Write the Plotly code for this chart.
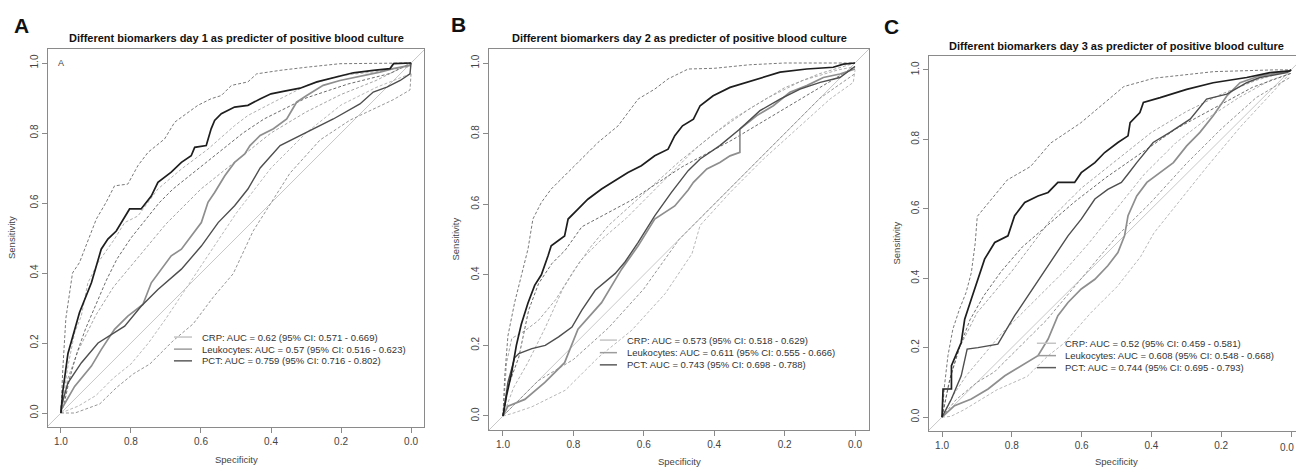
import plotly.graph_objects as go

# ---------------- DATA ----------------
panel_titles = [
    "Different biomarkers day 1 as predicter of positive blood culture",
    "Different biomarkers day 2 as predicter of positive blood culture",
    "Different biomarkers day 3 as predicter of positive blood culture",
]
panel_letters = ["A", "B", "C"]
legend_A = ["CRP: AUC = 0.62 (95% CI: 0.571 - 0.669)",
            "Leukocytes: AUC = 0.57 (95% CI: 0.516 - 0.623)",
            "PCT: AUC = 0.759 (95% CI: 0.716 - 0.802)"]
legend_B = ["CRP: AUC = 0.573 (95% CI: 0.518 - 0.629)",
            "Leukocytes: AUC = 0.611 (95% CI: 0.555 - 0.666)",
            "PCT: AUC = 0.743 (95% CI: 0.698 - 0.788)"]
legend_C = ["CRP: AUC = 0.52 (95% CI: 0.459 - 0.581)",
            "Leukocytes: AUC = 0.608 (95% CI: 0.548 - 0.668)",
            "PCT: AUC = 0.744 (95% CI: 0.695 - 0.793)"]
tick_vals = [0.0, 0.2, 0.4, 0.6, 0.8, 1.0]
tick_text = ["0.0", "0.2", "0.4", "0.6", "0.8", "1.0"]
chance_spec = [1.1, -0.1]
chance_sens = [-0.1, 1.1]

# Panel A
A_black_spec = [1.0, 0.995, 0.98, 0.966, 0.947, 0.913, 0.885, 0.866, 0.842, 0.804, 0.771, 0.742, 0.723, 0.685, 0.656, 0.628, 0.618, 0.585, 0.571, 0.561, 0.542, 0.504, 0.466, 0.43, 0.4, 0.365, 0.317, 0.269, 0.212, 0.165, 0.108, 0.06, 0.05, 0.0]
A_black_sens = [0.0, 0.06, 0.17, 0.22, 0.287, 0.372, 0.468, 0.497, 0.52, 0.583, 0.583, 0.62, 0.659, 0.688, 0.716, 0.735, 0.759, 0.764, 0.812, 0.836, 0.855, 0.874, 0.879, 0.898, 0.912, 0.919, 0.928, 0.946, 0.96, 0.972, 0.979, 0.984, 0.998, 1.0]
A_mid_spec = [1.0, 0.999, 0.961, 0.913, 0.885, 0.847, 0.809, 0.766, 0.742, 0.713, 0.685, 0.656, 0.628, 0.599, 0.58, 0.561, 0.532, 0.504, 0.475, 0.46, 0.431, 0.393, 0.355, 0.327, 0.298, 0.251, 0.203, 0.155, 0.089, 0.051, 0.003, 0.0]
A_mid_sens = [0.0, 0.01, 0.076, 0.134, 0.181, 0.239, 0.277, 0.31, 0.372, 0.411, 0.449, 0.468, 0.506, 0.544, 0.602, 0.63, 0.678, 0.716, 0.74, 0.764, 0.793, 0.812, 0.84, 0.888, 0.907, 0.936, 0.95, 0.96, 0.974, 0.984, 0.993, 1.0]
A_smooth_spec = [1.0, 0.999, 0.98, 0.942, 0.894, 0.847, 0.818, 0.771, 0.723, 0.656, 0.599, 0.551, 0.504, 0.466, 0.431, 0.374, 0.289, 0.222, 0.146, 0.108, 0.069, 0.031, 0.003, 0.0]
A_smooth_sens = [0.0, 0.019, 0.086, 0.143, 0.2, 0.229, 0.248, 0.305, 0.353, 0.411, 0.477, 0.544, 0.592, 0.64, 0.70, 0.764, 0.807, 0.84, 0.883, 0.917, 0.931, 0.95, 0.969, 1.0]
A_black_up_spec = [1.0, 0.995, 0.986, 0.967, 0.947, 0.923, 0.899, 0.871, 0.847, 0.809, 0.78, 0.751, 0.704, 0.675, 0.637, 0.609, 0.571, 0.542, 0.513, 0.466, 0.441, 0.374, 0.298, 0.203, 0.0]
A_black_up_sens = [0.0, 0.12, 0.27, 0.4, 0.43, 0.49, 0.554, 0.602, 0.649, 0.654, 0.707, 0.745, 0.783, 0.831, 0.86, 0.879, 0.898, 0.907, 0.936, 0.946, 0.969, 0.979, 0.988, 0.998, 1.0]
A_black_lo_spec = [1.0, 0.99, 0.975, 0.955, 0.93, 0.9, 0.87, 0.84, 0.8, 0.76, 0.72, 0.68, 0.63, 0.58, 0.53, 0.48, 0.42, 0.36, 0.3, 0.24, 0.18, 0.12, 0.06, 0.0]
A_black_lo_sens = [0.0, 0.03, 0.1, 0.17, 0.24, 0.31, 0.38, 0.44, 0.5, 0.55, 0.6, 0.64, 0.68, 0.72, 0.76, 0.8, 0.84, 0.87, 0.9, 0.92, 0.94, 0.955, 0.97, 1.0]
A_mid_up_spec = [1.0, 0.98, 0.961, 0.942, 0.923, 0.894, 0.847, 0.818, 0.78, 0.723, 0.656, 0.58, 0.504, 0.466, 0.393, 0.298, 0.203, 0.108, 0.0]
A_mid_up_sens = [0.0, 0.134, 0.229, 0.277, 0.372, 0.43, 0.497, 0.544, 0.563, 0.64, 0.697, 0.754, 0.821, 0.85, 0.888, 0.936, 0.964, 0.974, 0.99]
A_mid_lo_spec = [1.0, 0.95, 0.9, 0.85, 0.8, 0.75, 0.7, 0.6, 0.5, 0.4, 0.3, 0.2, 0.1, 0.0]
A_mid_lo_sens = [0.0, 0.02, 0.05, 0.1, 0.14, 0.2, 0.27, 0.42, 0.57, 0.7, 0.8, 0.88, 0.93, 0.97]
A_smooth_up_spec = [1.0, 0.98, 0.95, 0.9, 0.85, 0.8, 0.75, 0.7, 0.6, 0.5, 0.4, 0.3, 0.2, 0.1, 0.0]
A_smooth_up_sens = [0.0, 0.1, 0.18, 0.28, 0.36, 0.42, 0.48, 0.54, 0.64, 0.72, 0.8, 0.86, 0.91, 0.95, 1.0]
A_smooth_lo_spec = [1.0, 0.96, 0.889, 0.841, 0.793, 0.746, 0.679, 0.622, 0.565, 0.508, 0.451, 0.346, 0.26, 0.174, 0.051, 0.003, 0.0]
A_smooth_lo_sens = [0.0, 0.0, 0.026, 0.073, 0.112, 0.14, 0.207, 0.255, 0.331, 0.398, 0.52, 0.685, 0.78, 0.837, 0.895, 0.923, 0.97]

# Panel B
B_black_spec = [1.0, 0.99, 0.976, 0.962, 0.948, 0.929, 0.91, 0.891, 0.872, 0.863, 0.825, 0.815, 0.787, 0.759, 0.72, 0.683, 0.645, 0.607, 0.569, 0.531, 0.512, 0.49, 0.459, 0.44, 0.403, 0.355, 0.308, 0.26, 0.213, 0.137, 0.062, 0.033, 0.0]
B_black_sens = [0.0, 0.057, 0.12, 0.2, 0.26, 0.32, 0.37, 0.4, 0.454, 0.482, 0.51, 0.558, 0.586, 0.614, 0.643, 0.666, 0.69, 0.709, 0.737, 0.756, 0.794, 0.822, 0.841, 0.879, 0.907, 0.931, 0.945, 0.959, 0.974, 0.983, 0.988, 0.997, 1.0]
B_smooth_spec = [1.0, 0.986, 0.967, 0.955, 0.918, 0.88, 0.842, 0.804, 0.776, 0.738, 0.681, 0.653, 0.616, 0.569, 0.522, 0.474, 0.44, 0.384, 0.327, 0.27, 0.213, 0.156, 0.099, 0.043, 0.0]
B_smooth_sens = [0.0, 0.095, 0.165, 0.177, 0.191, 0.2, 0.224, 0.252, 0.3, 0.356, 0.404, 0.437, 0.492, 0.567, 0.633, 0.695, 0.728, 0.766, 0.813, 0.865, 0.898, 0.926, 0.945, 0.959, 0.99]
B_mid_spec = [1.0, 0.986, 0.938, 0.881, 0.825, 0.787, 0.72, 0.663, 0.616, 0.569, 0.512, 0.474, 0.459, 0.421, 0.384, 0.355, 0.327, 0.327, 0.279, 0.232, 0.185, 0.137, 0.09, 0.043, 0.0]
B_mid_sens = [0.0, 0.028, 0.047, 0.095, 0.151, 0.246, 0.321, 0.416, 0.482, 0.558, 0.595, 0.64, 0.662, 0.7, 0.718, 0.737, 0.747, 0.813, 0.851, 0.879, 0.917, 0.936, 0.959, 0.969, 0.983]
B_black_up_spec = [1.0, 0.995, 0.986, 0.967, 0.948, 0.929, 0.915, 0.891, 0.863, 0.825, 0.768, 0.73, 0.673, 0.616, 0.569, 0.531, 0.474, 0.4, 0.3, 0.2, 0.0]
B_black_up_sens = [0.0, 0.113, 0.227, 0.321, 0.397, 0.473, 0.558, 0.605, 0.643, 0.68, 0.737, 0.775, 0.822, 0.898, 0.926, 0.955, 0.983, 0.985, 0.995, 1.0, 1.0]
B_black_lo_spec = [1.0, 0.986, 0.955, 0.927, 0.899, 0.861, 0.823, 0.776, 0.634, 0.491, 0.349, 0.207, 0.065, 0.0]
B_black_lo_sens = [0.0, 0.082, 0.167, 0.3, 0.375, 0.432, 0.47, 0.536, 0.612, 0.706, 0.782, 0.867, 0.952, 0.99]
B_smooth_up_spec = [1.0, 0.99, 0.975, 0.94, 0.9, 0.85, 0.8, 0.75, 0.7, 0.6, 0.5, 0.4, 0.3, 0.2, 0.1, 0.0]
B_smooth_up_sens = [0.0, 0.15, 0.22, 0.24, 0.27, 0.33, 0.41, 0.48, 0.54, 0.63, 0.72, 0.8, 0.87, 0.93, 0.97, 1.0]
B_smooth_lo_spec = [1.0, 0.95, 0.9, 0.85, 0.8, 0.7, 0.6, 0.5, 0.4, 0.3, 0.2, 0.1, 0.0]
B_smooth_lo_sens = [0.0, 0.05, 0.1, 0.13, 0.16, 0.25, 0.36, 0.5, 0.6, 0.7, 0.8, 0.9, 0.97]
B_mid_up_spec = [1.0, 0.97, 0.93, 0.88, 0.83, 0.78, 0.72, 0.65, 0.55, 0.45, 0.35, 0.25, 0.15, 0.05, 0.0]
B_mid_up_sens = [0.0, 0.08, 0.15, 0.25, 0.36, 0.44, 0.5, 0.56, 0.66, 0.76, 0.84, 0.9, 0.95, 0.98, 0.99]
B_mid_lo_spec = [1.0, 0.974, 0.918, 0.823, 0.728, 0.634, 0.539, 0.463, 0.44, 0.355, 0.26, 0.166, 0.071, 0.005, 0.0]
B_mid_lo_sens = [0.0, 0.007, 0.026, 0.073, 0.167, 0.243, 0.347, 0.46, 0.54, 0.633, 0.728, 0.813, 0.898, 0.945, 0.98]

# Panel C
C_black_spec = [1.0, 0.997, 0.973, 0.973, 0.945, 0.935, 0.916, 0.897, 0.878, 0.849, 0.811, 0.792, 0.763, 0.725, 0.696, 0.668, 0.62, 0.601, 0.562, 0.534, 0.496, 0.467, 0.461, 0.433, 0.423, 0.375, 0.299, 0.223, 0.127, 0.06, 0.003, 0.0]
C_black_sens = [0.0, 0.081, 0.081, 0.148, 0.215, 0.282, 0.34, 0.397, 0.455, 0.503, 0.522, 0.58, 0.618, 0.637, 0.647, 0.676, 0.676, 0.704, 0.733, 0.762, 0.791, 0.81, 0.848, 0.877, 0.906, 0.92, 0.944, 0.963, 0.978, 0.992, 0.997, 1.0]
C_smooth_spec = [1.0, 0.973, 0.945, 0.928, 0.897, 0.84, 0.792, 0.754, 0.716, 0.678, 0.639, 0.601, 0.562, 0.525, 0.486, 0.467, 0.442, 0.395, 0.347, 0.289, 0.242, 0.184, 0.127, 0.089, 0.012, 0.0]
C_smooth_sens = [0.0, 0.052, 0.119, 0.196, 0.2, 0.21, 0.292, 0.349, 0.407, 0.464, 0.522, 0.57, 0.628, 0.656, 0.676, 0.7, 0.733, 0.791, 0.82, 0.858, 0.916, 0.93, 0.963, 0.978, 0.992, 1.0]
C_mid_spec = [1.0, 0.964, 0.916, 0.868, 0.82, 0.772, 0.725, 0.696, 0.668, 0.639, 0.601, 0.562, 0.525, 0.496, 0.477, 0.467, 0.442, 0.413, 0.375, 0.337, 0.299, 0.261, 0.223, 0.184, 0.146, 0.089, 0.012, 0.0]
C_mid_sens = [0.0, 0.033, 0.052, 0.081, 0.119, 0.148, 0.177, 0.225, 0.292, 0.33, 0.369, 0.397, 0.436, 0.474, 0.522, 0.58, 0.637, 0.676, 0.704, 0.733, 0.781, 0.82, 0.868, 0.925, 0.963, 0.983, 0.994, 1.0]
C_black_up_spec = [1.0, 0.993, 0.983, 0.969, 0.95, 0.931, 0.916, 0.905, 0.899, 0.86, 0.813, 0.746, 0.689, 0.603, 0.536, 0.479, 0.393, 0.221, 0.05, 0.0]
C_black_up_sens = [0.0, 0.09, 0.177, 0.253, 0.311, 0.359, 0.416, 0.5, 0.578, 0.626, 0.683, 0.722, 0.789, 0.847, 0.904, 0.952, 0.976, 0.995, 1.0, 1.0]
C_black_lo_spec = [1.0, 0.99, 0.975, 0.95, 0.92, 0.88, 0.83, 0.77, 0.7, 0.62, 0.53, 0.43, 0.33, 0.22, 0.11, 0.0]
C_black_lo_sens = [0.0, 0.05, 0.12, 0.2, 0.28, 0.35, 0.42, 0.49, 0.55, 0.62, 0.69, 0.76, 0.83, 0.89, 0.95, 0.99]
C_smooth_up_spec = [1.0, 0.98, 0.95, 0.9, 0.85, 0.8, 0.74, 0.68, 0.6, 0.5, 0.4, 0.3, 0.2, 0.1, 0.0]
C_smooth_up_sens = [0.0, 0.1, 0.2, 0.3, 0.36, 0.42, 0.5, 0.58, 0.66, 0.74, 0.82, 0.88, 0.93, 0.97, 1.0]
C_smooth_lo_spec = [1.0, 0.96, 0.9, 0.85, 0.8, 0.75, 0.7, 0.6, 0.5, 0.4, 0.3, 0.2, 0.1, 0.0]
C_smooth_lo_sens = [0.0, 0.05, 0.1, 0.13, 0.18, 0.23, 0.28, 0.4, 0.52, 0.62, 0.73, 0.83, 0.92, 0.98]
C_mid_up_spec = [1.0, 0.97, 0.93, 0.88, 0.83, 0.78, 0.72, 0.65, 0.58, 0.5, 0.42, 0.33, 0.24, 0.15, 0.06, 0.0]
C_mid_up_sens = [0.0, 0.06, 0.12, 0.18, 0.24, 0.29, 0.35, 0.42, 0.5, 0.6, 0.7, 0.79, 0.86, 0.92, 0.97, 0.99]
C_mid_lo_spec = [1.0, 0.975, 0.937, 0.889, 0.842, 0.756, 0.698, 0.65, 0.574, 0.498, 0.431, 0.393, 0.316, 0.24, 0.144, 0.049, 0.011, 0.0]
C_mid_lo_sens = [0.0, 0.002, 0.021, 0.05, 0.079, 0.117, 0.175, 0.213, 0.3, 0.376, 0.462, 0.53, 0.626, 0.722, 0.837, 0.942, 0.981, 1.0]

# ---------------- STYLES ----------------
FONT = "Liberation Sans, Arial, sans-serif"
BOX = "#8a8a8a"
style = {
    "chance": dict(color="#c8c8c8", width=1),
    "mid_lo": dict(color="#b0b0b0", width=0.9, dash="3px,2px"),
    "mid_up": dict(color="#a8a8a8", width=0.9, dash="3px,2px"),
    "smooth_lo": dict(color="#8a8a8a", width=0.9, dash="3px,2px"),
    "smooth_up": dict(color="#9a9a9a", width=0.9, dash="3px,2px"),
    "black_lo": dict(color="#5a5a5a", width=0.9, dash="3px,2px"),
    "black_up": dict(color="#6a6a6a", width=0.9, dash="3px,2px"),
    "mid": dict(color="#8e8e8e", width=1.7),
    "smooth": dict(color="#4e4e4e", width=1.4),
    "black": dict(color="#1e1e1e", width=1.7),
}
legend_colors = ["#c4c4c4", "#9c9c9c", "#5c5c5c"]

panels = [
    dict(curves={"mid_lo": (A_mid_lo_spec, A_mid_lo_sens), "mid_up": (A_mid_up_spec, A_mid_up_sens),
                 "smooth_lo": (A_smooth_lo_spec, A_smooth_lo_sens), "smooth_up": (A_smooth_up_spec, A_smooth_up_sens),
                 "black_lo": (A_black_lo_spec, A_black_lo_sens), "black_up": (A_black_up_spec, A_black_up_sens),
                 "mid": (A_mid_spec, A_mid_sens), "smooth": (A_smooth_spec, A_smooth_sens),
                 "black": (A_black_spec, A_black_sens)},
         legend=legend_A,
         px_x=(48, 424), px_y=(49, 427), xr=[1.037, -0.037], yr=[-0.04, 1.04],
         leg=(0.335, 0.383, 0.404, [0.238, 0.206, 0.175]),
         title_xy=(236, 38), letter_xy=(21, 26), ytitle_x=12, xtitle_y=459),
    dict(curves={"mid_lo": (B_mid_lo_spec, B_mid_lo_sens), "mid_up": (B_mid_up_spec, B_mid_up_sens),
                 "smooth_lo": (B_smooth_lo_spec, B_smooth_lo_sens), "smooth_up": (B_smooth_up_spec, B_smooth_up_sens),
                 "black_lo": (B_black_lo_spec, B_black_lo_sens), "black_up": (B_black_up_spec, B_black_up_sens),
                 "mid": (B_mid_spec, B_mid_sens), "smooth": (B_smooth_spec, B_smooth_sens),
                 "black": (B_black_spec, B_black_sens)},
         legend=legend_B,
         px_x=(488.7, 869.3), px_y=(49, 430), xr=[1.0406, -0.0406], yr=[-0.0397, 1.0397],
         leg=(0.292, 0.337, 0.358, [0.236, 0.203, 0.171]),
         title_xy=(679, 38), letter_xy=(458, 25), ytitle_x=455, xtitle_y=461),
    dict(curves={"mid_lo": (C_mid_lo_spec, C_mid_lo_sens), "mid_up": (C_mid_up_spec, C_mid_up_sens),
                 "smooth_lo": (C_smooth_lo_spec, C_smooth_lo_sens), "smooth_up": (C_smooth_up_spec, C_smooth_up_sens),
                 "black_lo": (C_black_lo_spec, C_black_lo_sens), "black_up": (C_black_up_spec, C_black_up_sens),
                 "mid": (C_mid_spec, C_mid_sens), "smooth": (C_smooth_spec, C_smooth_sens),
                 "black": (C_black_spec, C_black_sens)},
         legend=legend_C,
         px_x=(929, 1296), px_y=(56, 431), xr=[1.0373, -0.0143], yr=[-0.04, 1.04],
         leg=(0.294, 0.346, 0.365, [0.234, 0.201, 0.169]),
         title_xy=(1116, 46), letter_xy=(892, 27), ytitle_x=896, xtitle_y=461),
]

W, H = 1296, 467
fig = go.Figure()
annotations = []
shapes = []
layout_axes = {}

for i, p in enumerate(panels):
    n = "" if i == 0 else str(i + 1)
    xa, ya = "x" + n, "y" + n
    fig.add_trace(go.Scatter(x=chance_spec, y=chance_sens, mode="lines", line=style["chance"],
                             xaxis=xa, yaxis=ya, showlegend=False, hoverinfo="skip"))
    for key in ["mid_lo", "mid_up", "smooth_lo", "smooth_up", "black_lo", "black_up", "mid", "smooth", "black"]:
        sx, sy = p["curves"][key]
        fig.add_trace(go.Scatter(x=sx, y=sy, mode="lines", line=style[key],
                                 xaxis=xa, yaxis=ya, showlegend=False))
    x0, x1 = p["px_x"]
    y0, y1 = p["px_y"]
    tickfont = dict(family=FONT, size=10, color="#444")
    axis_common = dict(showline=True, mirror=True, linecolor=BOX, linewidth=1,
                       ticks="outside", ticklen=5, tickcolor=BOX, tickwidth=1,
                       tickvals=tick_vals, showgrid=False, zeroline=False,
                       automargin=False, tickfont=tickfont)
    # last panel is cut by the page edge: its "0.0" label is placed inside the page
    x_text = tick_text if i < 2 else [""] + tick_text[1:]
    layout_axes["xaxis" + n] = dict(domain=[x0 / W, x1 / W], range=p["xr"], anchor=ya,
                                    ticktext=x_text, **axis_common)
    layout_axes["yaxis" + n] = dict(domain=[1 - y1 / H, 1 - y0 / H], range=p["yr"], anchor=xa,
                                    ticktext=tick_text, tickangle=-90, **axis_common)
    if i == 2:
        annotations.append(dict(text=tick_text[0], x=1.0, y=1 - 447 / H, xref="paper", yref="paper",
                                showarrow=False, xanchor="right", yanchor="middle", font=tickfont))
    # title, letter, axis titles
    tx, ty = p["title_xy"]
    annotations.append(dict(text="<b>" + panel_titles[i] + "</b>", x=tx / W, y=1 - ty / H,
                            xref="paper", yref="paper", showarrow=False,
                            font=dict(family=FONT, size=11, color="#111"), xanchor="center", yanchor="middle"))
    lx, ly = p["letter_xy"]
    annotations.append(dict(text="<b>" + panel_letters[i] + "</b>", x=lx / W, y=1 - ly / H,
                            xref="paper", yref="paper", showarrow=False,
                            font=dict(family=FONT, size=21, color="#111"), xanchor="center", yanchor="middle"))
    annotations.append(dict(text="Sensitivity", x=p["ytitle_x"] / W, y=1 - ((y0 + y1) / 2) / H,
                            xref="paper", yref="paper", showarrow=False, textangle=-90,
                            font=dict(family=FONT, size=9.5, color="#444"), xanchor="center", yanchor="middle"))
    xc = (x0 + x1) / 2 if i < 2 else 1116
    annotations.append(dict(text="Specificity", x=xc / W, y=1 - p["xtitle_y"] / H,
                            xref="paper", yref="paper", showarrow=False,
                            font=dict(family=FONT, size=9.5, color="#444"), xanchor="center", yanchor="middle"))
    # legend (manual)
    s0, s1, tstart, ys = p["leg"]
    for k in range(3):
        shapes.append(dict(type="line", xref=xa + " domain", yref=ya + " domain",
                           x0=s0, x1=s1, y0=ys[k], y1=ys[k],
                           line=dict(color=legend_colors[k], width=1.5)))
        annotations.append(dict(text=p["legend"][k], xref=xa + " domain", yref=ya + " domain",
                                x=tstart, y=ys[k], showarrow=False, xanchor="left", yanchor="middle",
                                font=dict(family=FONT, size=9.5, color="#333")))

# small "A" label inside panel A
annotations.append(dict(text="A", x=1.0, y=1.0, xref="x", yref="y", showarrow=False,
                        font=dict(family=FONT, size=9, color="#444"), xanchor="center", yanchor="middle"))

fig.update_layout(width=W, height=H, margin=dict(l=0, r=0, t=0, b=0, autoexpand=False),
                  paper_bgcolor="white", plot_bgcolor="white", showlegend=False,
                  annotations=annotations, shapes=shapes, **layout_axes)

fig.write_html("out.html", config={"displayModeBar": False},
               post_script="document.body.style.margin='0px';document.body.style.overflow='hidden';")
